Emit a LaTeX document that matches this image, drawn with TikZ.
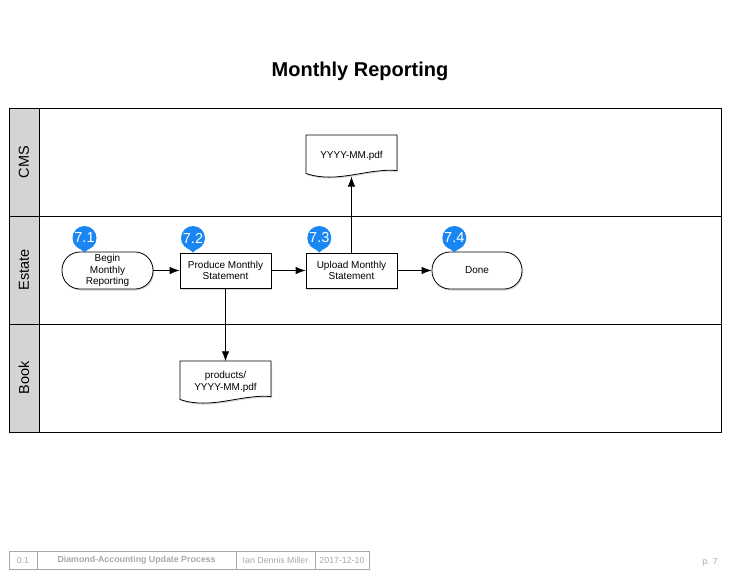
\documentclass[tikz,border=0pt]{standalone}
\usepackage{fontspec}
\setmainfont{Liberation Sans}
\usetikzlibrary{arrows.meta,shadows,calc}
\definecolor{lanegray}{HTML}{D4D4D4}
\definecolor{badgeblue}{HTML}{1A86F2}
\definecolor{footgray}{HTML}{A8A8A8}
\begin{document}
\begin{tikzpicture}[x=1pt,y=-1pt,
  shad/.style={drop shadow={opacity=0.3,shadow xshift=1pt,shadow yshift=-1.5pt}},
  box/.style={draw,line width=0.8pt,fill=white,shad,minimum width=91pt,minimum height=35pt,
    align=center,inner sep=1pt,font=\fontsize{10}{11.5}\selectfont},
  term/.style={box,rounded corners=18pt,minimum height=37pt},
  doctext/.style={minimum width=91pt,minimum height=41pt,align=center,inner sep=0pt,
    font=\fontsize{10}{12.5}\selectfont},
  docshape/.style={draw,line width=0.8pt,fill=white,shad},
  flow/.style={line width=0.8pt,-{Latex[length=10pt,width=7.5pt]}},
  badgec/.style={circle,fill=badgeblue,text=white,inner sep=0pt,minimum size=24pt,
    font=\fontsize{14.5}{14.5}\selectfont},
  lanelabel/.style={rotate=90,font=\fontsize{14.5}{14.5}\selectfont},
  foot/.style={font=\fontsize{8.8}{8.8}\selectfont,text=footgray},
  footline/.style={draw=footgray,line width=0.6pt}
]
\useasboundingbox (0,0) rectangle (734,576);

% title
\node[font=\fontsize{20}{20}\selectfont\bfseries] (title) at (360,71) {Monthly Reporting};

% pool and lanes
\fill[lanegray] (9,108) rectangle (39,432);
\draw[line width=0.8pt] (9,108) rectangle (721,432);
\draw[line width=0.8pt] (39,108) -- (39,432);
\draw[line width=0.8pt] (9,216) -- (721,216);
\draw[line width=0.8pt] (9,324) -- (721,324);
\node[lanelabel] (lcms) at (24,162) {CMS};
\node[lanelabel] (lest) at (24,270) {Estate};
\node[lanelabel] (lbook) at (24,378) {Book};

% process nodes
\node[term] (begin) at (107.5,270.5) {Begin\\Monthly\\Reporting};
\node[box] (produce) at (225.5,270.5) {Produce Monthly\\Statement};
\node[box] (upload) at (351.5,270.5) {Upload Monthly\\Statement};
\node[term,minimum width=90pt] (done) at (477,270.5) {Done};

% documents
\draw[docshape] (306,135) -- (397,135) -- (397,170.5)
  .. controls (367,168) and (337,184) .. (306,173.5) -- cycle;
\node[doctext] (pdf) at (351.5,155.5) {YYYY-MM.pdf};
\coordinate (pdfb) at (351.5,176.5);

\draw[docshape] (180,361) -- (271,361) -- (271,396.5)
  .. controls (241,394) and (211,410) .. (180,399.5) -- cycle;
\node[doctext] (prod) at (225.5,382) {products/\\YYYY-MM.pdf};

% connectors
\draw[flow] (begin) -- (produce);
\draw[flow] (produce) -- (upload);
\draw[flow] (upload) -- (done);
\draw[flow] (upload.north) -- (pdfb);
\draw[flow] (produce.south) -- (prod.north);

% badges
\foreach \n/\x/\lbl in {b71/84.5/7.1, b72/193/7.2, b73/319.3/7.3, b74/454.3/7.4}{
  \node[badgec] (\n) at (\x,238) {\lbl};
  \fill[badgeblue] ($(\n.center)+(-7.5,8)$) -- ($(\n.center)+(0,14.5)$) -- ($(\n.center)+(7.5,8)$) -- cycle;
}

% footer
\draw[footline] (9,551) rectangle (369,569);
\draw[footline] (37,551) -- (37,569);
\draw[footline] (236,551) -- (236,569);
\draw[footline] (315,551) -- (315,569);
\node[foot] (fver) at (23,560) {0.1};
\node[foot,font=\fontsize{8.8}{8.8}\selectfont\bfseries] (fname) at (136.5,560) {Diamond-Accounting Update Process};
\node[foot] (fauth) at (275.5,560) {Ian Dennis Miller};
\node[foot] (fdate) at (342,560) {2017-12-10};
\node[foot] (fpage) at (710,562) {p. 7};
\end{tikzpicture}
\end{document}
